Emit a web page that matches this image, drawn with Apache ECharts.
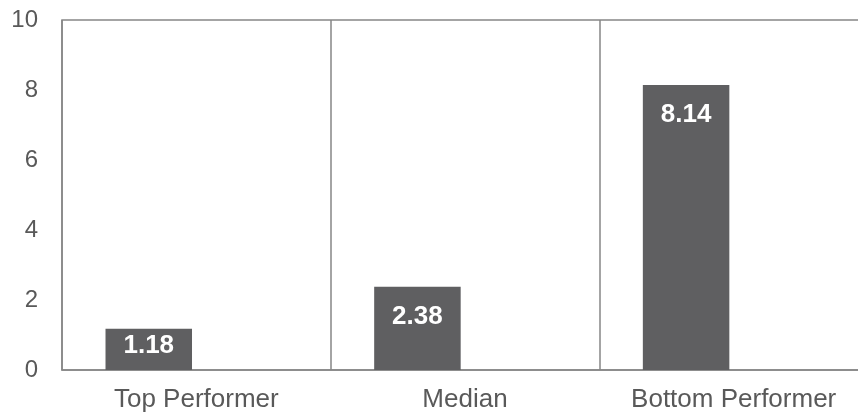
<!DOCTYPE html>
<html>
<head>
<meta charset="utf-8">
<script src="https://cdn.jsdelivr.net/npm/echarts@6/dist/echarts.min.js"></script>
<style>
  html, body { margin: 0; padding: 0; overflow: hidden; background: #fff; }
  #chart { width: 868px; height: 415px; }
</style>
</head>
<body>
<div id="chart"></div>
<script>
// Performance comparison by tier
const categories = ['Top Performer', 'Median', 'Bottom Performer'];
const values = [1.18, 2.38, 8.14];
const yTicks = { min: 0, max: 10, interval: 2 };

const FONT = 'Arial, "Liberation Sans", Helvetica, sans-serif';
const GRID_COLOR = '#868686';
const TEXT_COLOR = '#595959';
const BAR_COLOR = '#5f5f61';

const chart = echarts.init(document.getElementById('chart'), null, { renderer: 'canvas' });

// short bars get their label pulled up closer to the bar top
const barData = values.map(v => ({
  value: v,
  label: { distance: v < 2 ? 4 : 17 }
}));

chart.setOption({
  animation: false,
  grid: {
    left: 62, top: 20, right: 0, bottom: 45,
    show: true,
    borderColor: GRID_COLOR,
    borderWidth: 1.5,
    backgroundColor: 'transparent'
  },
  xAxis: {
    type: 'category',
    data: categories,
    axisLine: { show: true, lineStyle: { color: GRID_COLOR, width: 1.5 } },
    axisTick: { show: false },
    splitLine: { show: true, lineStyle: { color: GRID_COLOR, width: 1.5 } },
    axisLabel: {
      color: TEXT_COLOR,
      fontFamily: FONT,
      fontSize: 26,
      margin: 17,
      interval: 0
    }
  },
  yAxis: {
    type: 'value',
    min: yTicks.min,
    max: yTicks.max,
    interval: yTicks.interval,
    axisLine: { show: false },
    axisTick: { show: false },
    splitLine: { show: false },
    axisLabel: {
      color: TEXT_COLOR,
      fontFamily: FONT,
      fontSize: 24,
      margin: 24
    }
  },
  series: [
    {
      type: 'bar',
      data: barData,
      barWidth: 86.5,
      barGap: '10%',
      itemStyle: { color: BAR_COLOR },
      label: {
        show: true,
        position: 'insideTop',
        color: '#ffffff',
        fontFamily: FONT,
        fontWeight: 'bold',
        fontSize: 26,
        formatter: p => p.value.toFixed(2)
      }
    },
    {
      type: 'bar',
      data: categories.map(() => null),
      barWidth: 86.5,
      itemStyle: { color: 'transparent' }
    }
  ]
});
</script>
</body>
</html>
